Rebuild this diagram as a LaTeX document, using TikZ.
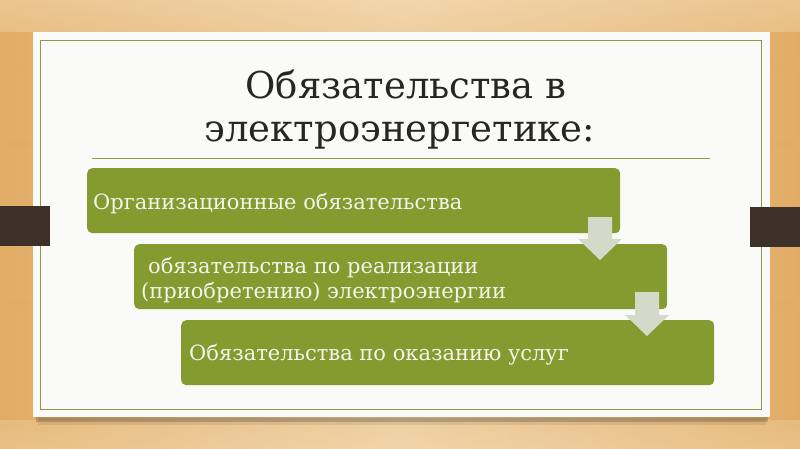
\documentclass[tikz,border=0pt]{standalone}
\usepackage{fontspec}
\setmainfont{DejaVu Serif}
\definecolor{woodA}{HTML}{E2AC66}
\definecolor{woodB}{HTML}{EFD0A2}
\definecolor{woodC}{HTML}{F3DDB8}
\definecolor{barC}{HTML}{3C3029}
\definecolor{cardC}{HTML}{FAFAF8}
\definecolor{lineG}{HTML}{8C9C3E}
\definecolor{boxG}{HTML}{859A2F}
\definecolor{arrC}{HTML}{D4D9C8}
\definecolor{titleC}{HTML}{262626}
\definecolor{txtC}{HTML}{F4F4EC}
\tikzset{
  box/.style={fill=boxG, rounded corners=5pt, draw=none, inner sep=0pt, anchor=north west},
  boxtext/.style={text=txtC, font=\fontsize{21}{25}\selectfont, inner sep=0pt, anchor=base west},
  titletext/.style={text=titleC, font=\fontsize{37}{44}\selectfont, inner sep=0pt, anchor=base},
  downarrow/.style={fill=arrC, draw=none}
}
\begin{document}
\begin{tikzpicture}[x=1pt,y=-1pt]
\useasboundingbox (0,0) rectangle (800,449);
% wood background
\shade[left color=woodA, right color=woodA, middle color=woodB] (0,0) rectangle (800,449);
\shade[top color=woodC, bottom color=woodB, opacity=0.5] (0,0) rectangle (800,32);
\shade[top color=woodB, bottom color=woodC, opacity=0.4] (0,420) rectangle (800,449);
\fill[woodA, opacity=0.12] (0,62) rectangle (800,70);
\fill[woodA, opacity=0.10] (0,140) rectangle (800,148);
\fill[woodA, opacity=0.10] (0,300) rectangle (800,310);
% card shadow
\fill[black, opacity=0.18] (36,416) rectangle (768,422);
\fill[black, opacity=0.08] (38,418) rectangle (766,425);
% card
\node[fill=cardC, draw=none, minimum width=737pt, minimum height=385pt, inner sep=0pt, anchor=north west] (card) at (33,32) {};
\draw[lineG, line width=0.8pt] (40,40) rectangle (761,409);
% bars
\fill[barC] (0,206) rectangle (50,246);
\fill[barC] (750,207) rectangle (800,247);
% title
\node[titletext] (t1) at (406,99) {Обязательства в};
\node[titletext] (t2) at (400,142) {электроэнергетике:};
\draw[lineG, line width=0.8pt] (92,158) -- (710,158);
% boxes
\node[box, minimum width=533pt, minimum height=65pt] (b1) at (87,168) {};
\node[box, minimum width=533pt, minimum height=65pt] (b2) at (134,244) {};
\node[box, minimum width=533pt, minimum height=65pt] (b3) at (181,320) {};
\node[boxtext] (bt1) at (93,209) {Организационные обязательства};
\node[boxtext] (bt2a) at (148,273) {обязательства по реализации};
\node[boxtext] (bt2b) at (141,298) {(приобретению) электроэнергии};
\node[boxtext] (bt3) at (189,360) {Обязательства по оказанию услуг};
% arrows
\fill[downarrow] (588,217) -- (612,217) -- (612,239) -- (622,239) -- (600,260) -- (578,239) -- (588,239) -- cycle;
\fill[downarrow] (635,292) -- (659,292) -- (659,315) -- (669,315) -- (647,336) -- (625,315) -- (635,315) -- cycle;
\end{tikzpicture}
\end{document}
